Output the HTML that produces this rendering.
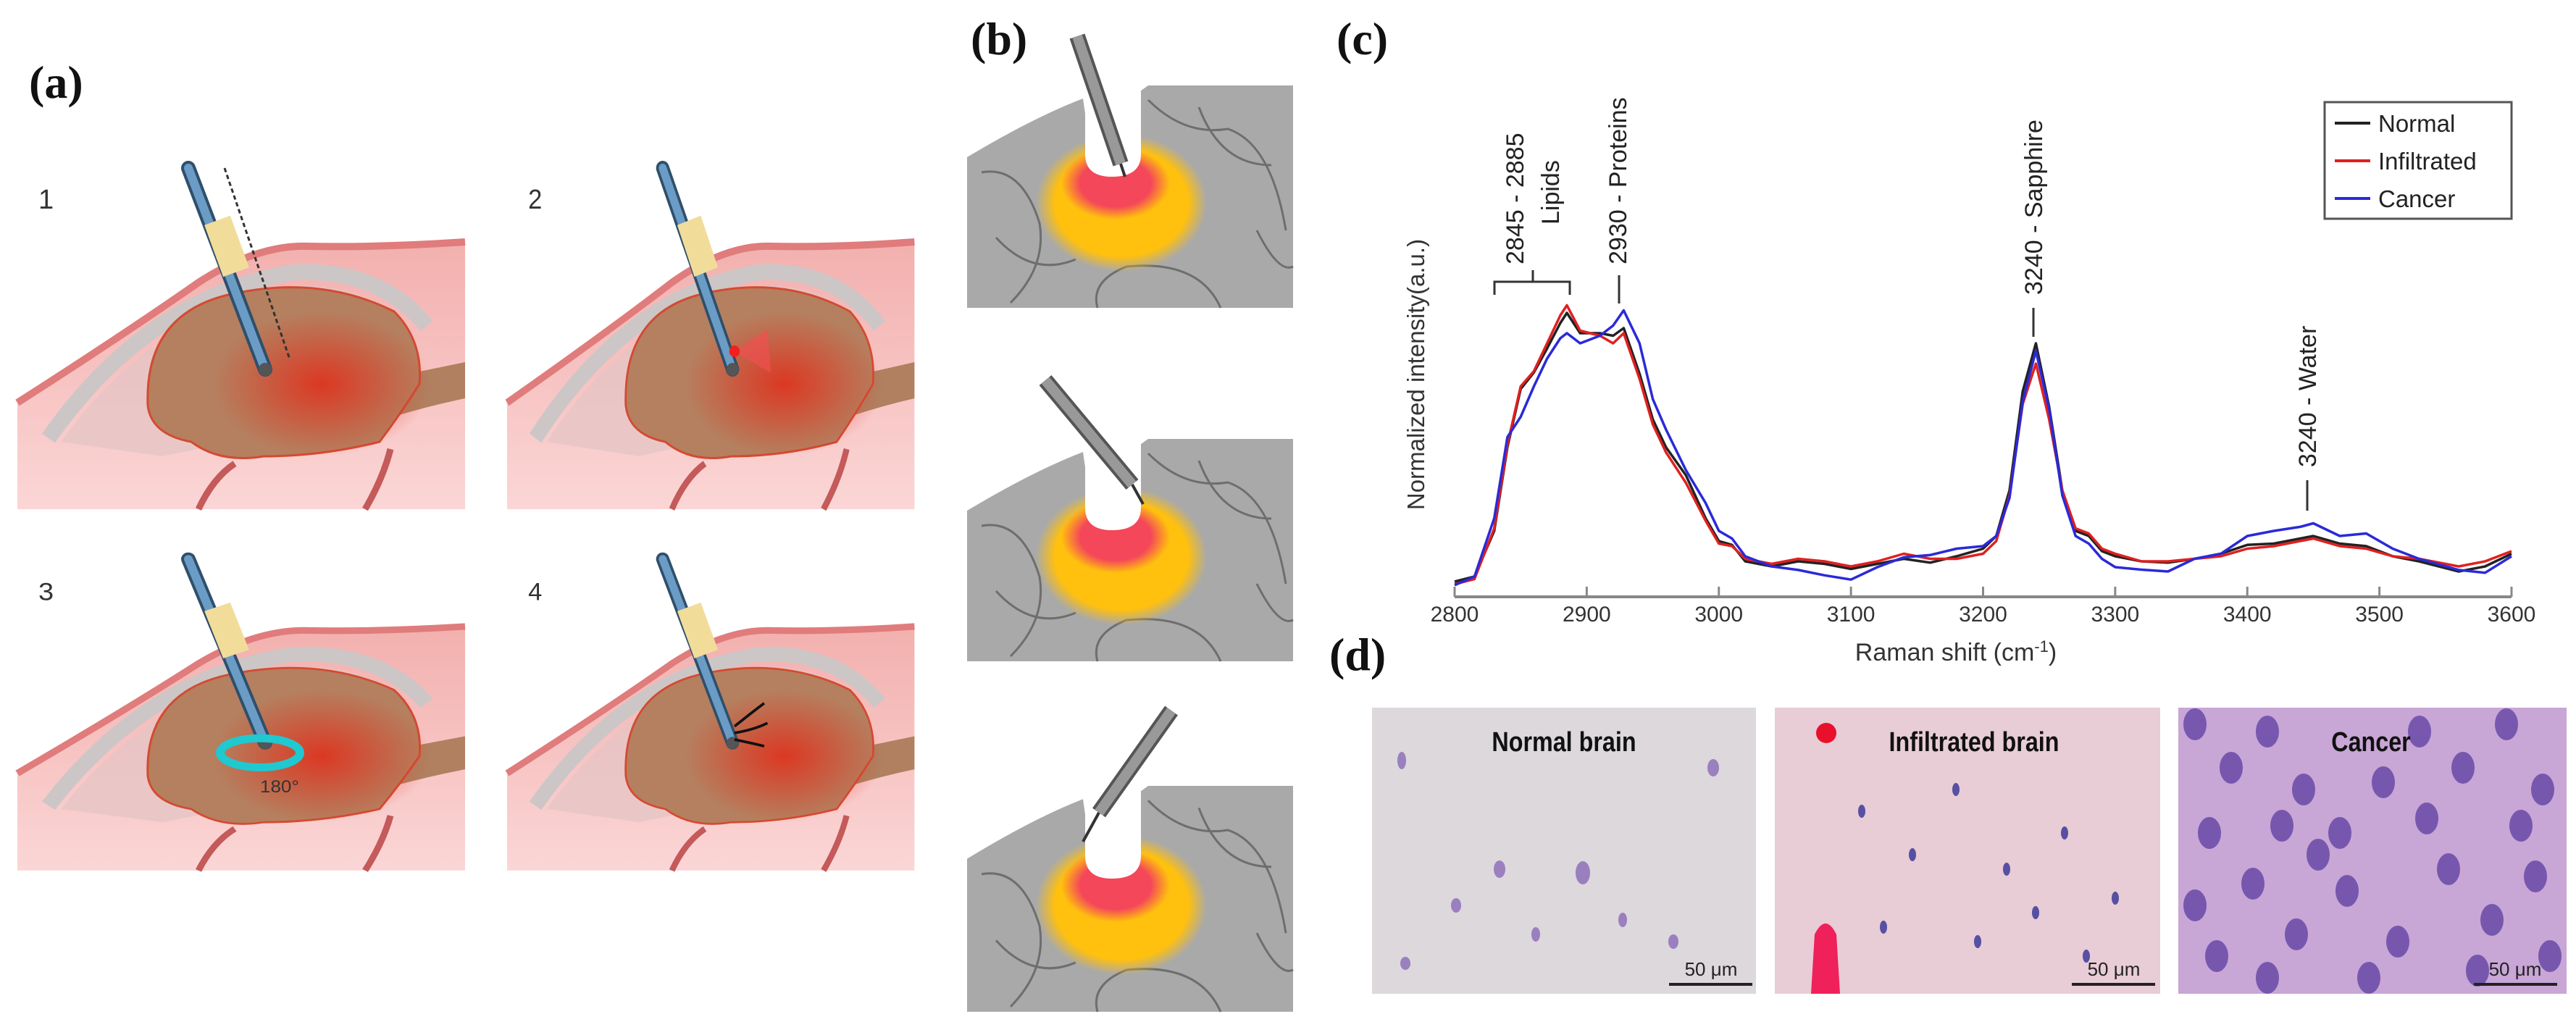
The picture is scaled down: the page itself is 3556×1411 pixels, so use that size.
<!DOCTYPE html>
<html><head><meta charset="utf-8">
<style>
html,body{margin:0;padding:0;background:#fff;}
body{width:3556px;height:1411px;position:relative;overflow:hidden;font-family:"Liberation Sans",sans-serif;}
svg{position:absolute;left:0;top:0;}
.plbl{font-family:"Liberation Serif",serif;font-weight:bold;font-size:64px;fill:#111;}
.ann{font-size:34px;fill:#222;}
.tick{font-size:30px;fill:#333;}
.num{font-size:38px;fill:#333;}
.htitle{font-size:38px;font-weight:bold;fill:#111;}
</style></head>
<body>
<svg id="fig" width="3556" height="1411" viewBox="0 0 3556 1411">
<defs>
 <linearGradient id="skin" x1="0" y1="0" x2="0" y2="1">
  <stop offset="0" stop-color="#f2b0ae"/><stop offset="1" stop-color="#fbd6d6"/>
 </linearGradient>
 <radialGradient id="glow" cx="0.5" cy="0.5" r="0.5">
  <stop offset="0" stop-color="#e0301c" stop-opacity="0.9"/><stop offset="1" stop-color="#e0301c" stop-opacity="0"/>
 </radialGradient>
 <radialGradient id="orange" cx="0.5" cy="0.5" r="0.5">
  <stop offset="0.78" stop-color="#ffc00e"/><stop offset="1" stop-color="#ffc00e" stop-opacity="0"/>
 </radialGradient>
 <radialGradient id="redb" cx="0.5" cy="0.5" r="0.5">
  <stop offset="0.65" stop-color="#f4475a"/><stop offset="1" stop-color="#f4475a" stop-opacity="0"/>
 </radialGradient>
 <g id="brainpanel">
  <path d="M0,326 Q150,230 250,160 Q330,108 400,110 Q500,112 618,104 L618,473 L0,473 Z" fill="url(#skin)"/>
  <path d="M0,326 Q150,230 250,160 Q330,108 400,110 Q500,112 618,104" fill="none" stroke="#e07c7c" stroke-width="10"/>
  <path d="M43,375 Q180,180 380,146 Q500,140 565,220" fill="none" stroke="#cdc6c6" stroke-width="22"/>
  <path d="M60,380 Q190,200 380,165 Q490,160 545,230 L540,330 L200,400 Z" fill="#e4c4c4" opacity="0.7"/>
  <path d="M520,290 Q570,280 618,270 L618,320 Q570,330 520,345 Z" fill="#b08060"/>
  <path d="M180,330 Q175,200 300,175 Q420,150 520,200 Q560,240 555,300 Q530,340 500,380 Q420,400 340,400 Q280,410 240,380 Q185,370 180,330 Z" fill="#b5805f" stroke="#d44a32" stroke-width="3"/>
  <ellipse cx="420" cy="300" rx="150" ry="100" fill="url(#glow)"/>
  <path d="M250,473 Q270,430 300,410 M480,473 Q505,430 515,390" fill="none" stroke="#c45a5a" stroke-width="9"/>
  <line x1="236" y1="2" x2="342" y2="280" stroke="#2f4f6a" stroke-width="20" stroke-linecap="round"/>
  <line x1="236" y1="2" x2="342" y2="280" stroke="#6a9cc6" stroke-width="12" stroke-linecap="round"/>
  <rect x="270" y="72" width="38" height="76" fill="#f1dc9a" transform="rotate(-20 289 110)"/>
  <circle cx="342" cy="280" r="9" fill="#555"/>
 </g>
 <path id="greyb" d="M0,99 Q90,45 160,18 L166,60 L250,0 L450,0 L450,307 L0,307 Z" fill="#a9a9a9"/>
 <g id="bpanel">
  <use href="#greyb"/>
  <path d="M20,120 Q75,110 100,190 Q110,250 60,300 M250,20 Q300,70 360,60 Q420,80 440,200 M180,307 Q170,270 220,250 Q320,240 350,307 M320,30 Q350,110 420,110 M40,210 Q90,265 150,240 M400,200 Q430,260 450,250" fill="none" stroke="#6e6e6e" stroke-width="3"/>
  <ellipse cx="213" cy="162" rx="118" ry="95" fill="url(#orange)"/>
  <ellipse cx="205" cy="135" rx="75" ry="50" fill="url(#redb)"/>
  <path d="M163,-5 L163,95 Q163,126 200,126 Q240,126 240,95 L240,-5 Z" fill="#fff"/>
 </g>
</defs>

<text class="plbl" x="40" y="135">(a)</text>
<g transform="translate(24,230)"><use href="#brainpanel"/><line x1="286" y1="2" x2="376" y2="266" stroke="#333" stroke-width="3" stroke-dasharray="6 4"/><text class="num" x="29" y="58">1</text></g>
<g transform="translate(700,230) scale(0.91,1)"><use href="#brainpanel"/><path d="M345,255 L395,225 L400,285 Z" fill="#f05050" opacity="0.7"/><circle cx="345" cy="255" r="8" fill="#f02020"/><text class="num" x="32" y="58">2</text></g>
<g transform="translate(24,770) scale(1,0.913)"><use href="#brainpanel"/><ellipse cx="335" cy="295" rx="55" ry="22" fill="none" stroke="#20c8d0" stroke-width="12"/><text x="335" y="355" font-size="26" fill="#333">180°</text><text class="num" x="29" y="64">3</text></g>
<g transform="translate(700,770) scale(0.91,0.913)"><use href="#brainpanel"/><path d="M345,255 Q370,235 390,220 M345,265 Q375,260 395,250 M345,275 Q370,280 390,285" fill="none" stroke="#111" stroke-width="4"/><text class="num" x="32" y="64">4</text></g>

<text class="plbl" x="1340" y="75">(b)</text>
<g>
 <g transform="translate(1335,118)"><use href="#bpanel"/></g>
 <line x1="1547" y1="226" x2="1553" y2="244" stroke="#333" stroke-width="4"/>
 <line x1="1487" y1="50" x2="1547" y2="226" stroke="#555" stroke-width="22"/><line x1="1487" y1="50" x2="1547" y2="226" stroke="#999" stroke-width="14"/>
</g>
<g>
 <g transform="translate(1335,606)"><use href="#bpanel"/></g>
 <line x1="1563" y1="669" x2="1578" y2="696" stroke="#333" stroke-width="4"/>
 <line x1="1443" y1="525" x2="1563" y2="669" stroke="#555" stroke-width="22"/><line x1="1443" y1="525" x2="1563" y2="669" stroke="#999" stroke-width="14"/>
</g>
<g>
 <g transform="translate(1335,1085) scale(1,1.016)"><use href="#bpanel"/></g>
 <line x1="1517" y1="1122" x2="1495" y2="1162" stroke="#333" stroke-width="4"/>
 <line x1="1617" y1="981" x2="1517" y2="1122" stroke="#555" stroke-width="22"/><line x1="1617" y1="981" x2="1517" y2="1122" stroke="#999" stroke-width="14"/>
</g>

<text class="plbl" x="1845" y="75">(c)</text>
<g id="chart"></g>
<text class="plbl" x="1835" y="925">(d)</text>

<g>
 <rect x="1894" y="977" width="530" height="395" fill="#dcd8dc"/>
 <g fill="#8a6ab8" opacity="0.8"><ellipse cx="1935" cy="1050" rx="6" ry="12"/><ellipse cx="2070" cy="1200" rx="8" ry="12"/><ellipse cx="2185" cy="1205" rx="10" ry="16"/><ellipse cx="2120" cy="1290" rx="6" ry="10"/><ellipse cx="2240" cy="1270" rx="6" ry="10"/><ellipse cx="2010" cy="1250" rx="7" ry="10"/><ellipse cx="2365" cy="1060" rx="8" ry="12"/><ellipse cx="2310" cy="1300" rx="7" ry="10"/><ellipse cx="1940" cy="1330" rx="7" ry="9"/></g>
 <text class="htitle" x="2159" y="1037" text-anchor="middle" transform="translate(2159,0) scale(0.85,1) translate(-2159,0)">Normal brain</text>
 <line x1="2304" y1="1359" x2="2419" y2="1359" stroke="#222" stroke-width="4"/>
 <text x="2362" y="1347" font-size="26" text-anchor="middle" fill="#222">50 μm</text>
</g>
<g>
 <rect x="2450" y="977" width="532" height="395" fill="#e8ccd6"/>
 <g fill="#3d3a9a" opacity="0.85"><ellipse cx="2570" cy="1120" rx="5" ry="9"/><ellipse cx="2640" cy="1180" rx="5" ry="9"/><ellipse cx="2700" cy="1090" rx="5" ry="9"/><ellipse cx="2770" cy="1200" rx="5" ry="9"/><ellipse cx="2850" cy="1150" rx="5" ry="9"/><ellipse cx="2920" cy="1240" rx="5" ry="9"/><ellipse cx="2600" cy="1280" rx="5" ry="9"/><ellipse cx="2730" cy="1300" rx="5" ry="9"/><ellipse cx="2880" cy="1320" rx="5" ry="9"/><ellipse cx="2810" cy="1260" rx="5" ry="9"/></g>
 <circle cx="2521" cy="1012" r="14" fill="#e8102a"/>
 <path d="M2505,1290 Q2520,1260 2535,1290 L2540,1372 L2500,1372 Z" fill="#f0205a"/>
 <text class="htitle" x="2725" y="1037" text-anchor="middle" transform="translate(2725,0) scale(0.85,1) translate(-2725,0)">Infiltrated brain</text>
 <line x1="2860" y1="1359" x2="2975" y2="1359" stroke="#222" stroke-width="4"/>
 <text x="2918" y="1347" font-size="26" text-anchor="middle" fill="#222">50 μm</text>
</g>
<g>
 <rect x="3007" y="977" width="536" height="395" fill="#c8a6d6"/>
 <g id="cells" fill="#6a4aa8" opacity="0.85"></g>
 <text class="htitle" x="3273" y="1037" text-anchor="middle" transform="translate(3273,0) scale(0.85,1) translate(-3273,0)">Cancer</text>
 <line x1="3415" y1="1359" x2="3530" y2="1359" stroke="#222" stroke-width="4"/>
 <text x="3472" y="1347" font-size="26" text-anchor="middle" fill="#222">50 μm</text>
</g>
</svg>
<script>
const xs = [2800,2815,2830,2840,2850,2860,2870,2880,2885,2895,2910,2920,2928,2940,2950,2960,2975,2990,3000,3010,3020,3040,3060,3080,3100,3120,3140,3160,3180,3200,3210,3220,3230,3240,3250,3260,3270,3280,3290,3300,3320,3340,3360,3380,3400,3420,3440,3450,3470,3490,3510,3530,3560,3580,3600];
const normal = [.06,.08,.26,.59,.82,.885,.98,1.08,1.12,1.04,1.04,1.03,1.06,.88,.70,.59,.48,.31,.22,.205,.14,.12,.14,.13,.11,.13,.15,.135,.16,.19,.24,.42,.81,1.0,.75,.42,.26,.24,.18,.16,.14,.135,.15,.17,.205,.21,.23,.24,.21,.2,.16,.14,.10,.12,.17];
const infiltrated = [.05,.07,.27,.60,.83,.89,1.0,1.11,1.15,1.05,1.03,1.0,1.04,.86,.68,.57,.45,.30,.21,.20,.15,.13,.15,.14,.12,.14,.17,.15,.15,.17,.22,.40,.76,.92,.70,.42,.27,.25,.19,.17,.14,.14,.15,.16,.19,.20,.22,.23,.20,.19,.16,.15,.12,.14,.18];
const cancer = [.046,.08,.31,.63,.71,.83,.94,1.02,1.04,1.0,1.03,1.07,1.13,1.0,.78,.66,.50,.37,.26,.23,.16,.12,.106,.085,.068,.117,.156,.165,.19,.2,.24,.39,.77,.97,.74,.40,.24,.21,.15,.117,.107,.1,.15,.17,.24,.26,.276,.29,.24,.25,.19,.15,.106,.095,.16];
const xTicks = [2800,2900,3000,3100,3200,3300,3400,3500,3600];
const seriesNames = ["Normal","Infiltrated","Cancer"];
const seriesColors = ["#222222","#e02020","#2a2ad8"];

const NS="http://www.w3.org/2000/svg";
const g=document.getElementById('chart');
const X0=2008,X1=3467,Y0=824,YS=350;
function sx(v){return X0+(v-2800)/800*(X1-X0);}
function sy(v){return Y0-v*YS;}
function mk(tag,attrs,parent){const e=document.createElementNS(NS,tag);for(const k in attrs)e.setAttribute(k,attrs[k]);(parent||g).appendChild(e);return e;}

const ax=mk('line',{x1:X0,y1:Y0,x2:X1,y2:Y0,stroke:'#888','stroke-width':4});


xTicks.forEach(t=>{
 const tl=mk('line',{x1:sx(t),y1:Y0,x2:sx(t),y2:Y0-14,stroke:'#888','stroke-width':3});
 
 
 const tx=mk('text',{x:sx(t),y:Y0+34,'text-anchor':'middle','class':'tick'});
 tx.textContent=t;
 
 
});
const xl=mk('text',{x:2700,y:912,'text-anchor':'middle','font-size':34,fill:'#333'});
xl.innerHTML='Raman shift (cm<tspan baseline-shift="super" font-size="22">-1</tspan>)';


const yl=mk('text',{x:0,y:0,'text-anchor':'middle','font-size':33,fill:'#333',transform:'translate(1966,517) rotate(-90)'});
yl.textContent='Normalized intensity(a.u.)';



[normal,infiltrated,cancer].forEach((s,i)=>{
 let d='';
 xs.forEach((x,j)=>{d+=(j?'L':'M')+sx(x).toFixed(1)+','+sy(s[j]).toFixed(1);});
 const p=mk('path',{d:d,fill:'none',stroke:seriesColors[i],'stroke-width':3.5,'stroke-linejoin':'round'});
 
 
});

function rtext(x,y,txt,name){
 const t=mk('text',{x:0,y:0,'class':'ann',transform:'translate('+x+','+y+') rotate(-90)'});
 t.textContent=txt;
 
 
}
rtext(2103,365,'2845 - 2885','annotation-lipids-range');
rtext(2152,310,'Lipids','annotation-lipids');
rtext(2245,365,'2930 - Proteins','annotation-proteins');
rtext(2819,407,'3240 - Sapphire','annotation-sapphire');
rtext(3197,645,'3240 - Water','annotation-water');
const br=mk('path',{d:'M2063,407 L2063,389 L2167,389 L2167,407 M2116,389 L2116,373',fill:'none',stroke:'#333','stroke-width':3});


[[2235,380,419],[2807,425,465],[3185,663,705]].forEach(a=>{
 const l=mk('line',{x1:a[0],y1:a[1],x2:a[0],y2:a[2],stroke:'#333','stroke-width':3});
 
 
});

const lg=mk('g',{});


mk('rect',{x:3209,y:141,width:258,height:161,fill:'#fff',stroke:'#555','stroke-width':3},lg);
seriesNames.forEach((n,i)=>{
 const y=170+i*52;
 const e=mk('g',{},lg);
 
 
 mk('line',{x1:3223,y1:y,x2:3272,y2:y,stroke:seriesColors[i],'stroke-width':4},e);
 const t=mk('text',{x:3283,y:y+12,'font-size':33,fill:'#222'},e);
 t.textContent=n;
});

const cells=document.getElementById('cells');
const cellPos=[[3030,1000],[3080,1060],[3130,1010],[3180,1090],[3230,1150],[3290,1080],[3340,1010],[3400,1060],[3460,1000],[3510,1090],[3050,1150],[3110,1220],[3170,1290],[3240,1230],[3310,1300],[3380,1200],[3440,1270],[3500,1210],[3060,1320],[3130,1350],[3350,1130],[3420,1340],[3520,1320],[3270,1350],[3200,1180],[3030,1250],[3480,1140],[3150,1140]];
cellPos.forEach(p=>{
 const c=document.createElementNS(NS,'ellipse');
 c.setAttribute('cx',p[0]);c.setAttribute('cy',p[1]);c.setAttribute('rx',16);c.setAttribute('ry',22);
 
 
 cells.appendChild(c);
});
</script>
</body></html>
